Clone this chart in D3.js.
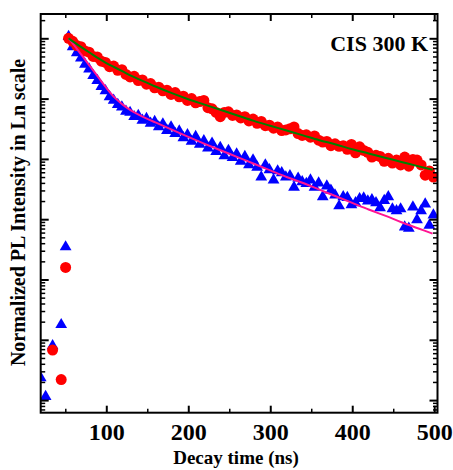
<html>
  <head>
    <title>CIS 300 K decay</title>
    <script type="text/javascript" src="https://cdn.jsdelivr.net/npm/d3@7"></script>
    <style>
      body { margin: 0; background: white; }
      svg { display: block; }
      text { font-family: "Liberation Serif", "Times New Roman", serif; font-weight: bold; }
    </style>
  </head>
  <body>
    <script type="text/javascript">
      // Size of the page
      const w = 453;
      const h = 470;
      const padLeft = 40.7, padRight = 437.5, padTop = 14, padBottom = 412.7;

      // Rising edge (log10 of normalized intensity)
      const riseTime = [20, 26, 34.5, 45, 50.4];
      const blueRise = [-5.63, -5.94, -5.10, -4.75, -3.46];
      const redRise = [null, null, -5.17, -5.66, -3.80];

      // Decay part, one sample every 5 ns
      const decayTime = [54, 59, 64, 69, 74, 79, 84, 89, 94, 99,
        104, 109, 114, 119, 124, 129, 134, 139, 144, 149,
        154, 159, 164, 169, 174, 179, 184, 189, 194, 199,
        204, 209, 214, 219, 224, 229, 234, 239, 244, 249,
        254, 259, 264, 269, 274, 279, 284, 289, 294, 299,
        304, 309, 314, 319, 324, 329, 334, 339, 344, 349,
        354, 359, 364, 369, 374, 379, 384, 389, 394, 399,
        404, 409, 414, 419, 424, 429, 434, 439, 444, 449,
        454, 459, 464, 469, 474, 479, 484, 489, 494, 499];

      const redDecay = [0.00, -0.05, -0.12, -0.14, -0.21, -0.23, -0.30, -0.31, -0.38, -0.40,
        -0.47, -0.46, -0.53, -0.52, -0.60, -0.64, -0.63, -0.70, -0.69, -0.76,
        -0.75, -0.82, -0.81, -0.87, -0.86, -0.93, -0.90, -0.97, -0.96, -1.03,
        -1.00, -1.07, -1.05, -1.03, -1.15, -1.17, -1.23, -1.30, -1.23, -1.22,
        -1.28, -1.27, -1.32, -1.30, -1.37, -1.34, -1.41, -1.38, -1.45, -1.44,
        -1.49, -1.47, -1.53, -1.52, -1.50, -1.47, -1.58, -1.61, -1.60, -1.64,
        -1.62, -1.69, -1.72, -1.71, -1.78, -1.75, -1.79, -1.78, -1.84, -1.76,
        -1.90, -1.80, -1.86, -1.89, -1.97, -1.94, -1.96, -2.04, -1.99, -2.07,
        -2.02, -2.10, -1.97, -2.12, -2.01, -2.02, -2.10, -2.27, -2.20, -2.30];

      const blueDecay = [0.03, -0.14, -0.24, -0.33, -0.43, -0.51, -0.62, -0.70, -0.80, -0.87,
        -0.97, -1.03, -1.10, -1.14, -1.21, -1.23, -1.30, -1.28, -1.36, -1.33,
        -1.41, -1.38, -1.47, -1.42, -1.53, -1.47, -1.58, -1.54, -1.65, -1.60,
        -1.71, -1.63, -1.76, -1.70, -1.82, -1.74, -1.88, -1.81, -1.95, -1.86,
        -1.98, -1.92, -2.04, -1.96, -2.10, -2.02, -2.14, -2.30, -2.10, -2.18,
        -2.35, -2.20, -2.23, -2.30, -2.28, -2.47, -2.32, -2.38, -2.41, -2.35,
        -2.47, -2.40, -2.63, -2.45, -2.52, -2.60, -2.78, -2.63, -2.64, -2.76,
        -2.73, -2.66, -2.65, -2.70, -2.68, -2.73, -2.81, -2.69, -2.63, -2.83,
        -2.86, -2.83, -3.13, -3.15, -2.80, -3.01, -2.86, -2.75, -3.10, -2.93];

      // Fitted curves
      const fitTime = [54, 60, 70, 80, 90, 100, 110, 120, 130, 140, 150, 160, 180, 200, 220,
        240, 260, 280, 300, 320, 340, 360, 380, 400, 420, 440, 460, 480, 498];
      const redFit = [0, -0.06, -0.15, -0.24, -0.33, -0.41, -0.48, -0.55, -0.62, -0.68, -0.74, -0.80, -0.91, -1.01, -1.10,
        -1.19, -1.28, -1.37, -1.45, -1.53, -1.61, -1.69, -1.76, -1.84, -1.91, -1.98, -2.05, -2.12, -2.18];
      const blueFit = [0, -0.10, -0.28, -0.46, -0.64, -0.82, -0.98, -1.10, -1.195, -1.27, -1.335, -1.395, -1.515, -1.635, -1.75,
        -1.86, -1.97, -2.08, -2.19, -2.30, -2.40, -2.51, -2.62, -2.73, -2.84, -2.94, -3.05, -3.15, -3.24];

      const xTicks = [100, 200, 300, 400, 500];
      const xMinor = [50, 150, 250, 350, 450];

      // Scales
      const xScale = d3.scaleLinear().domain([20, 504]).range([padLeft, padRight]);
      const yScale = d3.scaleLog()
        .domain([Math.pow(10, -6.209), Math.pow(10, 0.403)])
        .range([padBottom, padTop]);
      const yv = v => yScale(Math.pow(10, v));

      const svg = d3.select("body").append("svg")
        .attr("width", w).attr("height", h);

      svg.append("defs").append("clipPath").attr("id", "plot")
        .append("rect")
        .attr("x", padLeft).attr("y", padTop)
        .attr("width", padRight - padLeft).attr("height", padBottom - padTop);

      const plot = svg.append("g").attr("clip-path", "url(#plot)");

      // Blue triangles
      const blue = riseTime.map((t, i) => [t, blueRise[i]])
        .concat(decayTime.map((t, i) => [t, blueDecay[i]]));
      plot.selectAll("path.tri")
        .data(blue)
        .enter()
        .append("path")
        .attr("class", "tri")
        .attr("d", d3.symbol().type(d3.symbolTriangle).size(60))
        .attr("transform", d => "translate(" + xScale(d[0]) + "," + yv(d[1]) + ")")
        .attr("fill", "#0000ff");

      // Red circles
      const red = riseTime.map((t, i) => [t, redRise[i]])
        .concat(decayTime.map((t, i) => [t, redDecay[i]]))
        .filter(d => d[1] !== null);
      plot.selectAll("circle")
        .data(red)
        .enter()
        .append("circle")
        .attr("cx", d => xScale(d[0]))
        .attr("cy", d => yv(d[1]))
        .attr("r", 5.5)
        .attr("fill", "#ff0000");

      // Fit lines
      const line = d3.line()
        .x(d => xScale(d[0]))
        .y(d => yv(d[1]))
        .curve(d3.curveMonotoneX);
      plot.append("path")
        .attr("d", line(fitTime.map((t, i) => [t, blueFit[i]])))
        .attr("fill", "none")
        .attr("stroke", "#ff1493")
        .attr("stroke-width", 2);
      plot.append("path")
        .attr("d", line(fitTime.map((t, i) => [t, redFit[i]])))
        .attr("fill", "none")
        .attr("stroke", "#008000")
        .attr("stroke-width", 2);

      // Axes: ticks point inwards on all four sides
      const yMajor = d3.range(-6, 1).map(e => Math.pow(10, e));
      const yMinor = yScale.ticks().filter(v => yMajor.every(m => Math.abs(v / m - 1) > 1e-6));

      function styleAxis(g, width) {
        g.select(".domain").remove();
        g.selectAll(".tick line").attr("stroke", "black").attr("stroke-width", width);
      }

      svg.append("g").attr("transform", "translate(0," + padBottom + ")")
        .call(d3.axisBottom(xScale).tickValues(xTicks).tickSize(-7).tickPadding(10.5))
        .call(g => styleAxis(g, 2))
        .call(g => g.selectAll("text").attr("font-size", 24).attr("fill", "black")
          .attr("font-family", "Liberation Serif, serif").attr("font-weight", "bold"));
      svg.append("g").attr("transform", "translate(0," + padBottom + ")")
        .call(d3.axisBottom(xScale).tickValues(xMinor).tickSize(-4).tickFormat(""))
        .call(g => styleAxis(g, 1.5));
      svg.append("g").attr("transform", "translate(0," + padTop + ")")
        .call(d3.axisTop(xScale).tickValues(xTicks).tickSize(-7).tickFormat(""))
        .call(g => styleAxis(g, 2));
      svg.append("g").attr("transform", "translate(0," + padTop + ")")
        .call(d3.axisTop(xScale).tickValues(xMinor).tickSize(-4).tickFormat(""))
        .call(g => styleAxis(g, 1.5));

      svg.append("g").attr("transform", "translate(" + padLeft + ",0)")
        .call(d3.axisLeft(yScale).tickValues(yMajor).tickSize(-8).tickFormat(""))
        .call(g => styleAxis(g, 2));
      svg.append("g").attr("transform", "translate(" + padLeft + ",0)")
        .call(d3.axisLeft(yScale).tickValues(yMinor).tickSize(-4.5).tickFormat(""))
        .call(g => styleAxis(g, 1.5));
      svg.append("g").attr("transform", "translate(" + padRight + ",0)")
        .call(d3.axisRight(yScale).tickValues(yMajor).tickSize(-8).tickFormat(""))
        .call(g => styleAxis(g, 2));
      svg.append("g").attr("transform", "translate(" + padRight + ",0)")
        .call(d3.axisRight(yScale).tickValues(yMinor).tickSize(-4.5).tickFormat(""))
        .call(g => styleAxis(g, 1.5));

      // Frame
      svg.append("rect")
        .attr("x", padLeft).attr("y", padTop)
        .attr("width", padRight - padLeft).attr("height", padBottom - padTop)
        .attr("fill", "none").attr("stroke", "black").attr("stroke-width", 2);

      // Texts
      svg.append("text")
        .attr("x", 428).attr("y", 50.5)
        .attr("text-anchor", "end")
        .attr("font-size", 22)
        .text("CIS 300 K");

      svg.append("text")
        .attr("x", 236).attr("y", 464)
        .attr("text-anchor", "middle")
        .attr("font-size", 19)
        .text("Decay time (ns)");

      svg.append("text")
        .attr("transform", "translate(25,212.5) rotate(-90)")
        .attr("text-anchor", "middle")
        .attr("font-size", 20)
        .text("Normalized PL Intensity in Ln scale");
    </script>
  </body>
</html>
